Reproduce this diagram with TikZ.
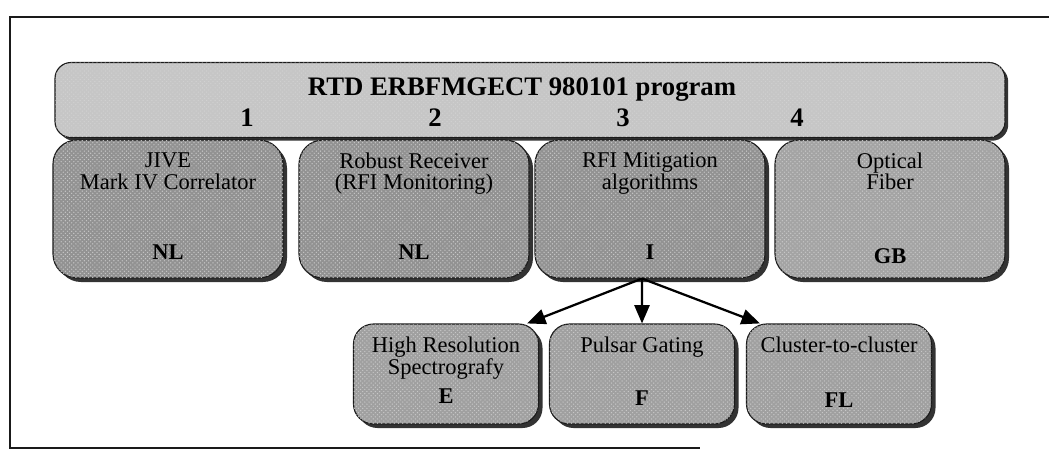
\documentclass[tikz,border=0pt]{standalone}
\usepackage{fontspec}
\setmainfont{Liberation Serif}
\usepackage{xcolor}
\usepackage{tikz}
\usetikzlibrary{calc,positioning,arrows.meta,shadows,patterns}
\definecolor{framedark}{HTML}{1A1A1A}
\definecolor{barfill}{HTML}{C6C6C6}
\definecolor{wpfill}{HTML}{929292}
\definecolor{fiberfill}{HTML}{A4A4A4}
\definecolor{subfill}{HTML}{A0A0A0}
\definecolor{shadowgray}{HTML}{333333}

\tikzset{
  topbar/.style={rectangle, rounded corners=4mm, fill=barfill, draw=framedark, line width=0.8pt,
    minimum width=237.5mm, minimum height=18.75mm, inner sep=0pt,
    postaction={pattern=crosshatch dots, pattern color=black!18},
    drop shadow={shadow xshift=0.8mm, shadow yshift=-0.8mm, fill=shadowgray, opacity=1}},
  wpbox/.style={rectangle, rounded corners=6mm, fill=wpfill, draw=framedark, line width=0.8pt,
    minimum width=57.5mm, minimum height=34.5mm, inner sep=0pt,
    postaction={pattern=crosshatch dots, pattern color=black!22},
    drop shadow={shadow xshift=1mm, shadow yshift=-1mm, fill=shadowgray, opacity=1}},
  subbox/.style={wpbox, fill=subfill, minimum width=46.25mm, minimum height=25mm, rounded corners=5mm},
  boxlabel/.style={anchor=north, align=center, inner sep=0pt, font=\fontsize{16}{15.5}\selectfont},
  boxcode/.style={inner sep=0pt, font=\fontsize{16}{18}\selectfont\bfseries},
  wpnum/.style={inner sep=0pt, font=\fontsize{19}{21}\selectfont\bfseries},
  flow/.style={-{Triangle[length=4.6mm, width=3.8mm]}, line width=1.6pt, black}
}

\begin{document}
\begin{tikzpicture}

\useasboundingbox (0,0) rectangle (262.25mm, -114.75mm);

% Frame
\draw[framedark, line width=1.2pt] (264mm, -4.25mm) -- (2.5mm, -4.25mm) -- (2.5mm, -112mm) -- (175mm, -112mm);

% Programme bar
\node[topbar] (bar) at (132.5mm, -25mm) {};
\node[font=\fontsize{19}{21}\selectfont\bfseries, inner sep=0pt] (title) at (130.5mm, -22.5mm) {RTD ERBFMGECT 980101 program};
\node[wpnum] (n1) at (61.75mm, -29.5mm) {1};
\node[wpnum] (n2) at (108.75mm, -29.5mm) {2};
\node[wpnum] (n3) at (155.75mm, -29.5mm) {3};
\node[wpnum] (n4) at (199.25mm, -29.5mm) {4};

% Work packages
\node[wpbox] (b1) at (42mm, -52.25mm) {};
\node[wpbox] (b2) at (103.5mm, -52.25mm) {};
\node[wpbox] (b3) at (162.5mm, -52.25mm) {};
\node[wpbox, fill=fiberfill] (b4) at (222.5mm, -52.25mm) {};

\node[boxlabel] (b1t) at ([yshift=-3.2mm]b1.north) {JIVE\\Mark IV Correlator};
\node[boxlabel] (b2t) at ([yshift=-3.2mm]b2.north) {Robust Receiver\\(RFI Monitoring)};
\node[boxlabel] (b3t) at ([yshift=-3.2mm]b3.north) {RFI Mitigation\\algorithms};
\node[boxlabel] (b4t) at ([yshift=-3.2mm]b4.north) {Optical\\Fiber};

\node[boxcode] (b1c) at ([yshift=6.5mm]b1.south) {NL};
\node[boxcode] (b2c) at ([yshift=6.5mm]b2.south) {NL};
\node[boxcode] (b3c) at ([yshift=6.5mm]b3.south) {I};
\node[boxcode] (b4c) at ([yshift=5.5mm]b4.south) {GB};

% Sub tasks of RFI mitigation
\node[subbox] (s1) at (111.5mm, -93.5mm) {};
\node[subbox] (s2) at (160.5mm, -93.5mm) {};
\node[subbox] (s3) at (209.75mm, -93.5mm) {};

\node[boxlabel] (s1t) at ([yshift=-3.4mm]s1.north) {High Resolution\\Spectrografy};
\node[boxlabel] (s2t) at ([yshift=-3.4mm]s2.north) {Pulsar Gating};
\node[boxlabel] (s3t) at ([yshift=-3.4mm]s3.north) {Cluster-to-cluster};

\node[boxcode] (s1c) at ([yshift=7mm]s1.south) {E};
\node[boxcode] (s2c) at ([yshift=6.5mm]s2.south) {F};
\node[boxcode] (s3c) at ([yshift=6mm]s3.south) {FL};

% Arrows
\draw[flow] ([xshift=-2mm]b3.south) -- ([xshift=-3mm]s1.north east);
\draw[flow] ([xshift=-2mm]b3.south) -- (s2.north);
\draw[flow] ([xshift=-2mm]b3.south) -- ([xshift=3.5mm]s3.north west);

\end{tikzpicture}
\end{document}
